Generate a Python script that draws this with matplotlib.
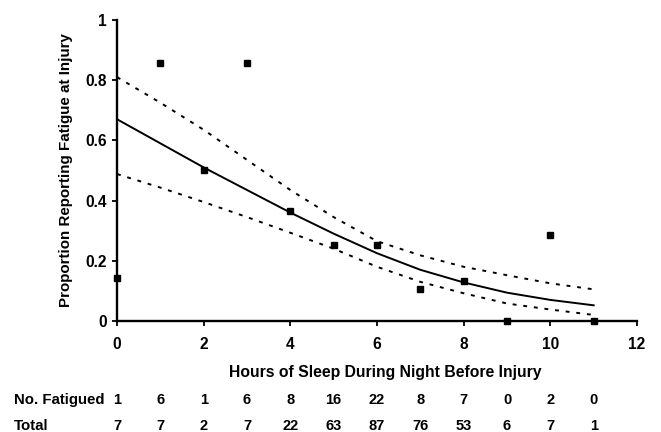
import matplotlib
matplotlib.use('Agg')
import matplotlib.pyplot as plt
from matplotlib.ticker import FuncFormatter
from matplotlib.transforms import blended_transform_factory

plt.rcParams['font.family'] = ['Liberation Sans', 'DejaVu Sans']
plt.rcParams['font.weight'] = 'bold'
plt.rcParams['font.size'] = 10

# observed data
hours = [0, 1, 2, 3, 4, 5, 6, 7, 8, 9, 10, 11]
n_fatigued = [1, 6, 1, 6, 8, 16, 22, 8, 7, 0, 2, 0]
n_total = [7, 7, 2, 7, 22, 63, 87, 76, 53, 6, 7, 1]
proportion = [f / t for f, t in zip(n_fatigued, n_total)]

# fitted curve and confidence band
fit = [0.67, 0.59, 0.51, 0.435, 0.36, 0.29, 0.225, 0.17, 0.128, 0.094, 0.07, 0.052]
upper = [0.81, 0.725, 0.635, 0.535, 0.435, 0.345, 0.265, 0.218, 0.18, 0.152, 0.125, 0.105]
lower = [0.488, 0.443, 0.395, 0.345, 0.293, 0.24, 0.18, 0.13, 0.092, 0.058, 0.038, 0.02]

fig = plt.figure(figsize=(6.61, 4.32), dpi=100)
ax = fig.add_axes([0.177, 0.257, 0.7867, 0.697])

ax.plot(hours, fit, color='black', lw=1.4, zorder=3)
ax.plot(hours, upper, color='black', lw=1.4, ls=(0, (2, 3.5)), zorder=3)
ax.plot(hours, lower, color='black', lw=1.4, ls=(0, (2, 3.5)), zorder=3)
ax.plot(hours, proportion, 's', color='black', ms=4.5, clip_on=False, zorder=4)

ax.set_xlim(0, 12)
ax.set_ylim(0, 1)
ax.set_xticks(range(0, 13, 2))
ax.set_yticks([0, 0.2, 0.4, 0.6, 0.8, 1])
ax.yaxis.set_major_formatter(FuncFormatter(lambda v, p: '%g' % v))

for side in ['top', 'right']:
    ax.spines[side].set_visible(False)
for side in ['left', 'bottom']:
    ax.spines[side].set_linewidth(1.7)
ax.tick_params(direction='out', length=3.5, width=1.3, labelsize=11.2)
ax.tick_params(axis='x', pad=8)
ax.tick_params(axis='y', pad=4)

ax.set_ylabel('Proportion Reporting Fatigue at Injury', fontsize=10.9, fontweight='bold')
ax.yaxis.set_label_coords(-0.085, 0.5)
ax.set_xlabel('Hours of Sleep During Night Before Injury', fontsize=11.3, fontweight='bold')
ax.xaxis.set_label_coords(0.515, -0.145)

# counts table under the axis
trans = blended_transform_factory(ax.transData, fig.transFigure)
fig.text(0.021, 0.074, 'No. Fatigued', ha='left', va='center', fontsize=10.8)
fig.text(0.021, 0.014, 'Total', ha='left', va='center', fontsize=10.8)
for h, f, t in zip(hours, n_fatigued, n_total):
    ax.text(h, 0.074, str(f), transform=trans, ha='center', va='center', fontsize=10.5)
    ax.text(h, 0.014, str(t), transform=trans, ha='center', va='center', fontsize=10.5)

fig.savefig('out.png', dpi=100)
